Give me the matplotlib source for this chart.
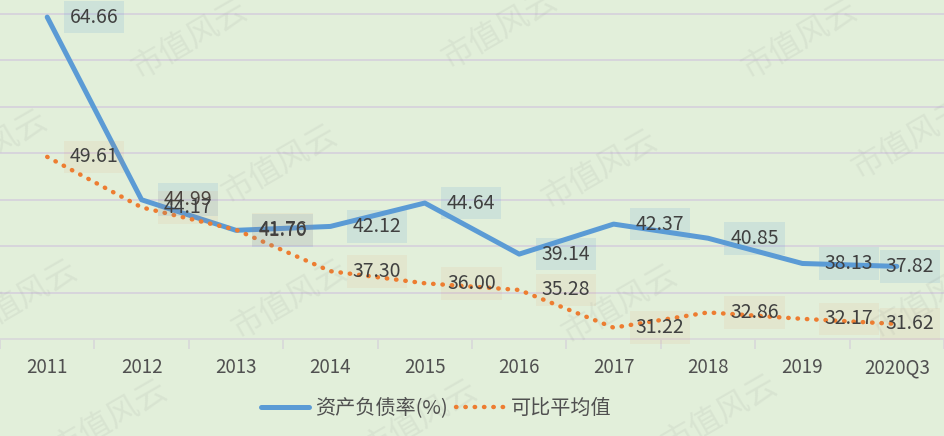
import matplotlib
matplotlib.use("Agg")
import matplotlib.pyplot as plt
from matplotlib.ticker import FixedLocator, NullFormatter

plt.rcParams['font.family'] = ['Noto Sans CJK SC', 'DejaVu Sans']

categories = ['2011', '2012', '2013', '2014', '2015', '2016', '2017', '2018', '2019', '2020Q3']
debt_ratio = [64.66, 44.99, 41.70, 42.12, 44.64, 39.14, 42.37, 40.85, 38.13, 37.82]
peer_avg = [49.61, 44.17, 41.76, 37.30, 36.00, 35.28, 31.22, 32.86, 32.17, 31.62]
series_names = ['资产负债率(%)', '可比平均值']

BG = '#e2efda'
BLUE = '#5b9bd5'
ORANGE = '#ed7d31'
GRID = '#d6d3dc'
TXT = '#404040'

fig = plt.figure(figsize=(9.44, 4.36), dpi=100)
fig.patch.set_facecolor(BG)
ax = fig.add_axes([0, 0.2225, 1, 0.7775])
ax.set_facecolor(BG)

x = list(range(len(categories)))
ax.plot(x, debt_ratio, color=BLUE, lw=3.6, solid_joinstyle='round', solid_capstyle='round',
        label=series_names[0], zorder=3)
ax.plot(x, peer_avg, color=ORANGE, lw=3.2, linestyle=(0, (0.1, 2.0)), dash_capstyle='round',
        label=series_names[1], zorder=3)

ax.set_xlim(-0.5, len(categories) - 0.5)
ax.set_ylim(30, 66.5)
ax.set_yticks([35, 40, 45, 50, 55, 60, 65])
ax.yaxis.grid(True, color=GRID, lw=1.3)
ax.set_axisbelow(True)
ax.tick_params(axis='y', left=False, labelleft=False)

for s in ['top', 'right', 'left']:
    ax.spines[s].set_visible(False)
ax.spines['bottom'].set_color('#d9d9d9')
ax.spines['bottom'].set_linewidth(1.3)

ax.xaxis.set_major_locator(FixedLocator([i - 0.5 for i in range(len(categories) + 1)]))
ax.xaxis.set_major_formatter(NullFormatter())
ax.tick_params(axis='x', which='major', length=7, width=1.3, color='#d9d9d9', direction='out')
ax.set_xticks(x, minor=True)
ax.set_xticklabels(categories, minor=True)
ax.tick_params(axis='x', which='minor', length=0, pad=13, labelsize=13.5, labelcolor='#505050')

last = len(categories) - 1


def add_label(xi, v, fc, alpha):
    if xi == last:
        off, ha = (27, 0), 'right'
    else:
        off, ha = (16, 0), 'left'
    ax.annotate(f'{v:.2f}', (xi, v), xytext=off, textcoords='offset points',
                ha=ha, va='center', fontsize=14, color=TXT, zorder=5,
                bbox=dict(boxstyle='square,pad=0.3', fc=fc, ec='none', alpha=alpha))


for xi, v in zip(x, debt_ratio):
    add_label(xi, v, BLUE, 0.15)
for xi, v in zip(x, peer_avg):
    add_label(xi, v, ORANGE, 0.07)

# watermark
wm_pos = [(190, 40), (500, 30), (800, 40),
          (-10, 150), (280, 165), (600, 170), (910, 140),
          (20, 300), (290, 300), (620, 305), (930, 300),
          (110, 420), (420, 420), (720, 415)]
for px, py in wm_pos:
    fig.text(px / 944, 1 - py / 436, '市值风云', fontsize=23, color='#8a8a8a', alpha=0.11,
             rotation=30, ha='center', va='center', zorder=0, fontweight='light')

leg = fig.legend(loc='center', bbox_to_anchor=(0.462, 0.064), ncol=2, frameon=False,
                 fontsize=14.5, handlelength=2.4, columnspacing=0.4, handletextpad=0.3,
                 labelcolor='#505050')

fig.savefig('out.png', dpi=100, facecolor=BG)
